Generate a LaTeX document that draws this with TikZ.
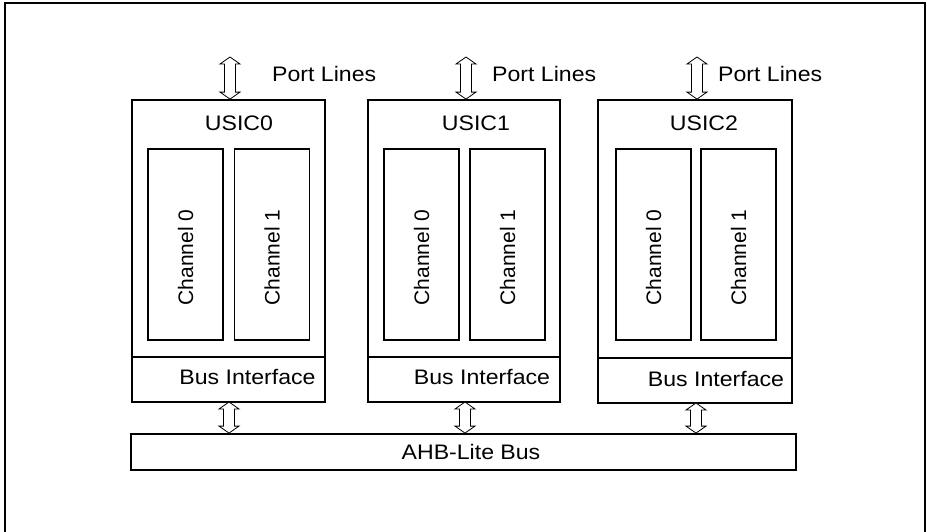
\documentclass[tikz,border=0pt]{standalone}
\usepackage{fontspec}
\setmainfont{Liberation Sans}
\usetikzlibrary{calc}
\newcommand\widetxt[1]{\scalebox{1.1}[1]{#1}}
% double hollow arrow between a top point #1 and a bottom point #2 (same x)
\newcommand\dblarrow[2]{%
  \draw[arr] let \p1=(#1), \p2=(#2) in
    (\x1,\y1) -- (\x1+10pt,\y1-7pt) -- (\x1+5.5pt,\y1-7pt) -- (\x1+5.5pt,\y2+7pt)
    -- (\x1+10pt,\y2+7pt) -- (\x1,\y2) -- (\x1-10pt,\y2+7pt) -- (\x1-5.5pt,\y2+7pt)
    -- (\x1-5.5pt,\y1-7pt) -- (\x1-10pt,\y1-7pt) -- cycle;}
\begin{document}
\begin{tikzpicture}[x=1pt,y=-1pt,
  box/.style={draw, line width=1.8pt, inner sep=0pt},
  chan/.style={draw, line width=1.8pt, inner sep=0pt, minimum width=75pt, minimum height=191pt},
  lbl/.style={font=\fontsize{21}{25}\selectfont, inner sep=0pt},
  arr/.style={line width=0.8pt, fill=white, line join=miter},
  frame/.style={line width=1.8pt}]
\useasboundingbox (0,0) rectangle (927,531);
\draw[frame] (5,545) -- (5,3) -- (925,3) -- (925,545);

% USIC blocks
\node[box, minimum width=193pt, minimum height=302pt] (u0) at (228.5,251) {};
\node[box, minimum width=192pt, minimum height=302pt] (u1) at (464,251) {};
\node[box, minimum width=194pt, minimum height=303pt] (u2) at (695,251.5) {};

% Bus interface parts
\node[box, minimum width=193pt, minimum height=45pt] (b0) at (228.5,379.5) {};
\node[box, minimum width=192pt, minimum height=45pt] (b1) at (464,379.5) {};
\node[box, minimum width=194pt, minimum height=45pt] (b2) at (695,380.5) {};

% Channels
\node[chan] (c00) at (185.5,244.5) {};
\node[chan] (c01) at (272,244.5) {};
\node[chan] (c10) at (421.5,244.5) {};
\node[chan] (c11) at (507.5,244.5) {};
\node[chan] (c20) at (653.5,244.5) {};
\node[chan] (c21) at (738.5,244.5) {};

\foreach \c/\n in {c00/0,c01/1,c10/0,c11/1,c20/0,c21/1}
  \node[lbl, rotate=90] (t\c) at ($(\c)+(0,13)$) {Channel \n};

% labels
\node[lbl, anchor=base] (tu0) at (239,130) {\widetxt{USIC0}};
\node[lbl, anchor=base] (tu1) at (476,130) {\widetxt{USIC1}};
\node[lbl, anchor=base] (tu2) at (704,130) {\widetxt{USIC2}};

\node[lbl, anchor=base] (tb0) at (247.5,384) {\widetxt{Bus Interface}};
\node[lbl, anchor=base] (tb1) at (482,384) {\widetxt{Bus Interface}};
\node[lbl, anchor=base] (tb2) at (716,386) {\widetxt{Bus Interface}};

\node[lbl, anchor=base west] (pl0) at (272,81) {\widetxt{Port Lines}};
\node[lbl, anchor=base west] (pl1) at (492,81) {\widetxt{Port Lines}};
\node[lbl, anchor=base west] (pl2) at (718,81) {\widetxt{Port Lines}};

% AHB bus
\node[box, minimum width=665pt, minimum height=36pt] (bus) at (463.5,452) {};
\node[lbl] (tbus) at (471,452) {\widetxt{AHB-Lite Bus}};

% port line arrows
\coordinate (p0) at (230,57);
\coordinate (p1) at (466,57);
\coordinate (p2) at (697,57);
\dblarrow{p0}{p0 |- u0.north}
\dblarrow{p1}{p1 |- u1.north}
\dblarrow{p2}{p2 |- u2.north}

% bus arrows
\coordinate (q0) at (229,402);
\coordinate (q1) at (465,402);
\coordinate (q2) at (696,403);
\dblarrow{q0}{q0 |- bus.north}
\dblarrow{q1}{q1 |- bus.north}
\dblarrow{q2}{q2 |- bus.north}
\end{tikzpicture}
\end{document}
